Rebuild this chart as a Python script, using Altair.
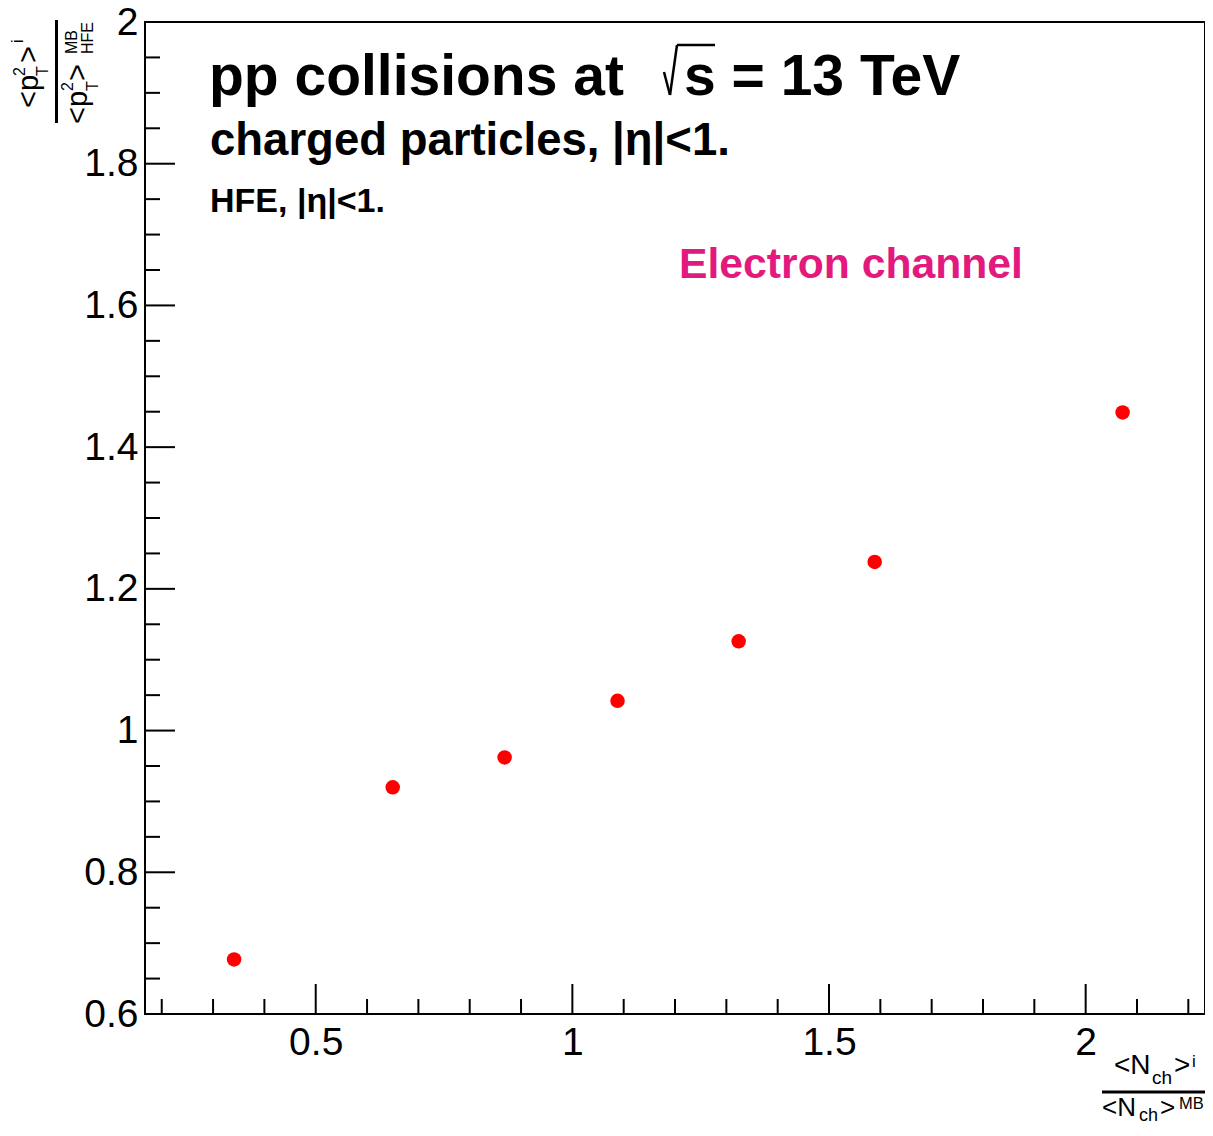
import altair as alt
import pandas as pd

# ---- data ----
x_vals = [0.341, 0.650, 0.868, 1.088, 1.324, 1.589, 2.072]
y_vals = [0.677, 0.920, 0.962, 1.042, 1.126, 1.238, 1.449]

x_major = [0.5, 1.0, 1.5, 2.0]
x_minor = [0.2, 0.3, 0.4, 0.6, 0.7, 0.8, 0.9, 1.1, 1.2, 1.3, 1.4,
           1.6, 1.7, 1.8, 1.9, 2.1, 2.2]
y_major = [0.6, 0.8, 1.0, 1.2, 1.4, 1.6, 1.8, 2.0]
y_minor = [0.65, 0.7, 0.75, 0.85, 0.9, 0.95, 1.05, 1.1, 1.15, 1.25, 1.3,
           1.35, 1.45, 1.5, 1.55, 1.65, 1.7, 1.75, 1.85, 1.9, 1.95]

X_DOMAIN = [0.1674, 2.2325]
Y_DOMAIN = [0.6, 2.0]
W, H = 1060, 992
FONT = "Liberation Sans"
PINK = "#e31a7e"

xs = alt.Scale(domain=X_DOMAIN, nice=False, zero=False)
ys = alt.Scale(domain=Y_DOMAIN, nice=False, zero=False)
X_AX = alt.Axis(values=x_major, format="~g", title=None, grid=False, domain=False,
                ticks=False, tickSize=0, labelFont=FONT, labelFontSize=39,
                labelColor="black", labelPadding=9, labelFlush=False)
Y_AX = alt.Axis(values=y_major, format="~g", title=None, grid=False, domain=False,
                ticks=False, tickSize=0, labelFont=FONT, labelFontSize=39,
                labelColor="black", labelPadding=7, labelFlush=False)

one = pd.DataFrame({"a": [0]})

points = alt.Chart(pd.DataFrame({"x": x_vals, "y": y_vals})).mark_circle(
    size=210, color="#ff0000", opacity=1).encode(
    x=alt.X("x:Q", scale=xs, axis=X_AX),
    y=alt.Y("y:Q", scale=ys, axis=Y_AX))


def xticks(vals, length):
    return alt.Chart(pd.DataFrame({"x": vals})).mark_rule(
        color="black", strokeWidth=2).encode(
        x=alt.X("x:Q", scale=xs, axis=X_AX),
        y=alt.value(H), y2=alt.value(H - length))


def yticks(vals, length):
    return alt.Chart(pd.DataFrame({"y": vals})).mark_rule(
        color="black", strokeWidth=2).encode(
        y=alt.Y("y:Q", scale=ys, axis=Y_AX),
        x=alt.value(0), x2=alt.value(length))


def txt(s, x, y, size, bold=False, color="black", angle=0):
    kw = dict(text=s, font=FONT, fontSize=size, color=color, align="left",
              baseline="alphabetic", fontWeight="bold" if bold else "normal")
    if angle:
        kw["angle"] = angle
    return alt.Chart(one).mark_text(**kw).encode(x=alt.value(x), y=alt.value(y))


def seg(x1, y1, x2, y2, w):
    return alt.Chart(one).mark_rule(color="black", strokeWidth=w).encode(
        x=alt.value(x1), y=alt.value(y1), x2=alt.value(x2), y2=alt.value(y2))


layers = [
    xticks(x_major, 30), xticks(x_minor, 15),
    yticks(y_major, 30), yticks(y_minor, 15),
    points,
    # header
    txt("pp collisions at", 64, 73, 57, bold=True),
    seg(519, 50, 525, 73, 2.5),
    seg(525, 73, 532, 23, 2.5),
    seg(532, 23, 570, 23, 2.5),
    txt("s = 13 TeV", 539, 73, 57, bold=True),
    txt("charged particles, |\u03b7|<1.", 65, 133, 45.5, bold=True),
    txt("HFE, |\u03b7|<1.", 65, 190, 34, bold=True),
    txt("Electron channel", 534, 256, 42.7, bold=True, color=PINK),
    # y title (rotated fraction)
    txt("<p", -107, 86, 29, angle=270),
    txt("2", -120, 54, 16, angle=270),
    txt("T", -97, 54, 16, angle=270),
    txt(">", -107, 41, 29, angle=270),
    txt("i", -122, 21, 16, angle=270),
    seg(-88.5, -2, -88.5, 101, 3),
    txt("<p", -58, 102, 29, angle=270),
    txt("2", -72, 69, 16, angle=270),
    txt("T", -47, 69, 16, angle=270),
    txt(">", -58, 59, 29, angle=270),
    txt("MB", -68, 32, 16, angle=270),
    txt("HFE", -52, 32, 16, angle=270),
    # x title (fraction)
    txt("<N", 969, 1052, 28),
    txt("ch", 1007, 1062, 19),
    txt(">", 1029, 1052, 28),
    txt("i", 1047, 1045, 17),
    seg(957, 1070, 1060, 1070, 3),
    txt("<N", 957, 1094, 26),
    txt("ch", 994, 1099, 18),
    txt(">", 1015, 1094, 26),
    txt("MB", 1034, 1087, 16.5),
]

chart = alt.layer(*layers).properties(
    width=W, height=H,
    autosize=alt.AutoSizeParams(type="none"),
    padding={"left": 137, "top": 14, "right": 0, "bottom": 107},
    background="white",
).configure_view(stroke="black", strokeWidth=2)

chart.save("out.html", embed_options={"renderer": "svg", "actions": False})
